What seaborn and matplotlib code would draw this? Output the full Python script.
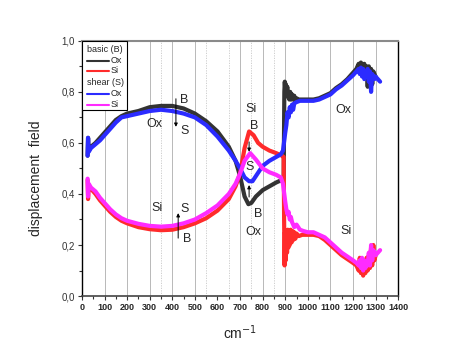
import numpy as np
import pandas as pd
import matplotlib
matplotlib.use("Agg")
import matplotlib.pyplot as plt
from matplotlib.lines import Line2D
from matplotlib.patches import Rectangle
from matplotlib.ticker import MultipleLocator, FuncFormatter
import seaborn as sns

# basic (B), Ox
ox_b_x = [25, 27, 30, 40, 60, 80, 100, 125, 150, 175, 200, 250, 300, 350, 400, 450, 500, 550,
          600, 650, 680, 700, 720, 737, 750, 770, 800, 830, 860, 885, 893, 896, 898, 900, 903,
          906, 909, 912, 915, 918, 922, 926, 930, 935, 940, 945, 950, 960, 975, 1000, 1025,
          1050, 1075, 1100, 1125, 1150, 1175, 1200, 1215, 1225, 1230, 1235, 1240, 1245, 1250,
          1255, 1260, 1265, 1270, 1275, 1280, 1285, 1290, 1295, 1300]
ox_b_y = [0.55, 0.62, 0.57, 0.585, 0.60, 0.62, 0.64, 0.665, 0.69, 0.705, 0.715, 0.725, 0.74,
          0.745, 0.745, 0.735, 0.715, 0.685, 0.645, 0.585, 0.53, 0.47, 0.39, 0.36, 0.365,
          0.39, 0.415, 0.43, 0.445, 0.455, 0.46, 0.80, 0.84, 0.81, 0.83, 0.79, 0.82, 0.78,
          0.80, 0.77, 0.80, 0.77, 0.79, 0.77, 0.785, 0.765, 0.775, 0.77, 0.77, 0.77, 0.77,
          0.775, 0.785, 0.795, 0.815, 0.83, 0.85, 0.875, 0.89, 0.91, 0.895, 0.915, 0.90,
          0.87, 0.91, 0.88, 0.90, 0.82, 0.90, 0.86, 0.89, 0.83, 0.88, 0.87, 0.86]

# basic (B), Si
si_b_x = [25, 27, 30, 40, 60, 80, 100, 125, 150, 175, 200, 250, 300, 350, 400, 450, 500, 550,
          600, 650, 680, 700, 720, 740, 760, 780, 800, 830, 860, 885, 893, 895, 897, 899, 902,
          905, 908, 911, 914, 917, 920, 924, 928, 932, 936, 940, 945, 950, 960, 975, 1000,
          1025, 1050, 1075, 1100, 1125, 1150, 1175, 1200, 1215, 1225, 1230, 1235, 1240, 1245,
          1250, 1255, 1260, 1265, 1270, 1275, 1280, 1285, 1290, 1295, 1300]
si_b_y = [0.455, 0.38, 0.43, 0.42, 0.40, 0.375, 0.355, 0.33, 0.31, 0.295, 0.285, 0.27, 0.262,
          0.258, 0.26, 0.27, 0.285, 0.305, 0.335, 0.38, 0.43, 0.48, 0.58, 0.645, 0.63, 0.60,
          0.585, 0.57, 0.56, 0.55, 0.545, 0.30, 0.12, 0.25, 0.14, 0.23, 0.17, 0.26, 0.19,
          0.25, 0.20, 0.26, 0.21, 0.255, 0.22, 0.25, 0.225, 0.245, 0.235, 0.24, 0.24, 0.24,
          0.235, 0.22, 0.20, 0.18, 0.16, 0.145, 0.13, 0.12, 0.10, 0.15, 0.09, 0.14, 0.08,
          0.13, 0.09, 0.15, 0.10, 0.16, 0.11, 0.19, 0.12, 0.20, 0.14, 0.16]

# shear (S), Ox
ox_s_x = [25, 27, 30, 40, 60, 80, 100, 125, 150, 175, 200, 250, 300, 350, 400, 450, 500, 550,
          600, 650, 680, 700, 720, 740, 755, 770, 800, 830, 860, 880, 890, 900, 905, 910, 915,
          920, 925, 930, 935, 940, 950, 965, 980, 1000, 1025, 1050, 1075, 1100, 1125, 1150,
          1175, 1200, 1215, 1225, 1230, 1235, 1240, 1245, 1250, 1255, 1260, 1265, 1270, 1275,
          1280, 1285, 1290, 1295, 1300, 1310, 1320]
ox_s_y = [0.55, 0.62, 0.565, 0.58, 0.595, 0.61, 0.63, 0.655, 0.68, 0.70, 0.705, 0.715, 0.725,
          0.73, 0.725, 0.715, 0.70, 0.67, 0.625, 0.57, 0.53, 0.50, 0.465, 0.45, 0.45, 0.47,
          0.51, 0.53, 0.545, 0.555, 0.57, 0.64, 0.67, 0.72, 0.70, 0.74, 0.72, 0.75, 0.73,
          0.755, 0.76, 0.765, 0.765, 0.765, 0.765, 0.77, 0.78, 0.79, 0.81, 0.825, 0.845,
          0.865, 0.88, 0.89, 0.87, 0.895, 0.86, 0.89, 0.85, 0.88, 0.87, 0.89, 0.84, 0.88,
          0.80, 0.87, 0.86, 0.85, 0.86, 0.85, 0.84]

# shear (S), Si
si_s_x = [25, 27, 30, 40, 60, 80, 100, 125, 150, 175, 200, 250, 300, 350, 400, 450, 500, 550,
          600, 650, 680, 700, 720, 745, 770, 800, 830, 860, 880, 890, 900, 905, 910, 915, 920,
          925, 930, 940, 950, 965, 980, 1000, 1025, 1050, 1075, 1100, 1125, 1150, 1175, 1200,
          1215, 1225, 1230, 1235, 1240, 1245, 1250, 1255, 1260, 1265, 1270, 1275, 1280, 1285,
          1290, 1300, 1310, 1320]
si_s_y = [0.46, 0.39, 0.44, 0.425, 0.41, 0.385, 0.365, 0.34, 0.32, 0.305, 0.295, 0.283, 0.275,
          0.272, 0.275, 0.285, 0.30, 0.325, 0.355, 0.40, 0.44, 0.48, 0.53, 0.56, 0.535, 0.50,
          0.485, 0.475, 0.465, 0.44, 0.37, 0.34, 0.32, 0.33, 0.30, 0.31, 0.29, 0.27, 0.28,
          0.26, 0.255, 0.25, 0.25, 0.24, 0.23, 0.21, 0.19, 0.17, 0.155, 0.14, 0.13, 0.12,
          0.14, 0.11, 0.15, 0.10, 0.14, 0.11, 0.13, 0.12, 0.17, 0.12, 0.20, 0.14, 0.18, 0.16,
          0.17, 0.18]

series_names = ["B Ox", "B Si", "S Ox", "S Si"]
colors = ["#333333", "#ff2b2b", "#2b2bff", "#ff2bff"]

grid_solid = [100, 200, 300, 400, 500, 700, 800, 900, 1000, 1100, 1200, 1300]
grid_dotted = [350, 550, 650, 750, 850]

df = pd.concat([
    pd.DataFrame({"x": ox_b_x, "y": ox_b_y, "series": "B Ox"}),
    pd.DataFrame({"x": si_b_x, "y": si_b_y, "series": "B Si"}),
    pd.DataFrame({"x": ox_s_x, "y": ox_s_y, "series": "S Ox"}),
    pd.DataFrame({"x": si_s_x, "y": si_s_y, "series": "S Si"}),
], ignore_index=True)

sns.set_style("white")
plt.rcParams["font.family"] = ["Liberation Sans", "DejaVu Sans"]

fig = plt.figure(figsize=(4.63, 3.55), dpi=100)
ax = fig.add_axes([0.177, 0.166, 0.683, 0.719])

for g in grid_solid:
    ax.axvline(g, color="#b8b8b8", lw=0.7, zorder=0)
for g in grid_dotted:
    ax.axvline(g, color="#c8c8c8", lw=0.6, ls=(0, (1.5, 1.5)), zorder=0)

sns.lineplot(data=df, x="x", y="y", hue="series", hue_order=series_names,
             palette=colors, sort=False, estimator=None, linewidth=3,
             legend=False, ax=ax)

ax.set_xlim(0, 1400)
ax.set_ylim(0, 1.0)
ax.xaxis.set_major_locator(MultipleLocator(100))
ax.xaxis.set_minor_locator(MultipleLocator(50))
ax.yaxis.set_major_locator(MultipleLocator(0.2))
ax.yaxis.set_minor_locator(MultipleLocator(0.1))
ax.yaxis.set_major_formatter(FuncFormatter(lambda v, p: f"{v:.1f}".replace(".", ",")))
ax.tick_params(axis="x", which="major", direction="out", length=3, width=0.8,
               labelsize=6.5, pad=2, color="#333333")
ax.tick_params(axis="x", which="minor", direction="out", length=2, width=0.8, color="#333333")
ax.tick_params(axis="y", which="major", direction="out", length=3, width=0.8,
               labelsize=7, pad=2, color="#333333", labelcolor="#333333")
ax.tick_params(axis="y", which="minor", direction="out", length=2, width=0.8, color="#333333")
for lab in ax.get_xticklabels():
    lab.set_fontweight("bold")
ax.tick_params(bottom=True, left=True, which="both")

ax.spines["left"].set_color("black")
ax.spines["left"].set_linewidth(1.0)
ax.spines["right"].set_color("black")
ax.spines["right"].set_linewidth(1.0)
ax.spines["bottom"].set_color("#444444")
ax.spines["bottom"].set_linewidth(1.2)
ax.spines["top"].set_color("#8a8a8a")
ax.spines["top"].set_linewidth(1.5)

ax.set_xlabel("cm$^{-1}$", fontsize=10, labelpad=8)
ax.set_ylabel("displacement  field", fontsize=10)
ax.yaxis.set_label_coords(-0.124, 0.463)

# annotations
fs = 9
ax.text(452, 0.77, "B", fontsize=fs, ha="center", va="center")
ax.text(320, 0.675, "Ox", fontsize=fs, ha="center", va="center")
ax.text(456, 0.647, "S", fontsize=fs, ha="center", va="center")
ax.text(331, 0.345, "Si", fontsize=fs, ha="center", va="center")
ax.text(456, 0.34, "S", fontsize=fs, ha="center", va="center")
ax.text(466, 0.225, "B", fontsize=fs, ha="center", va="center")
ax.text(749, 0.733, "Si", fontsize=fs, ha="center", va="center")
ax.text(762, 0.667, "B", fontsize=fs, ha="center", va="center")
ax.text(740, 0.506, "S", fontsize=fs, ha="center", va="center")
ax.text(781, 0.32, "B", fontsize=fs, ha="center", va="center")
ax.text(759, 0.252, "Ox", fontsize=fs, ha="center", va="center")
ax.text(1156, 0.73, "Ox", fontsize=fs, ha="center", va="center")
ax.text(1170, 0.255, "Si", fontsize=fs, ha="center", va="center")

arrow = dict(arrowstyle="-|>", color="black", lw=0.7, mutation_scale=5, shrinkA=0, shrinkB=0)
ax.annotate("", xy=(416, 0.663), xytext=(416, 0.773), arrowprops=arrow)
ax.annotate("", xy=(426, 0.325), xytext=(426, 0.227), arrowprops=arrow)
ax.annotate("", xy=(740, 0.565), xytext=(740, 0.604), arrowprops=arrow)
ax.annotate("", xy=(740, 0.435), xytext=(740, 0.388), arrowprops=arrow)

# legend box
ax.add_patch(Rectangle((0, 0.729), 0.142, 0.271, transform=ax.transAxes,
                       facecolor="white", edgecolor="black", lw=0.8, zorder=5))
leg_rows = [("basic (B)", None, 0.965), ("Ox", colors[0], 0.922), ("Si", colors[1], 0.882),
            ("shear (S)", None, 0.835), ("Ox", colors[2], 0.792), ("Si", colors[3], 0.749)]
for label, col, yy in leg_rows:
    if col is None:
        ax.text(0.017, yy, label, transform=ax.transAxes, fontsize=6.5,
                va="center", ha="left", zorder=6)
    else:
        ax.add_line(Line2D([0.017, 0.086], [yy, yy], transform=ax.transAxes,
                           color=col, lw=1.5, zorder=6))
        ax.text(0.092, yy, label, transform=ax.transAxes, fontsize=6.5,
                va="center", ha="left", zorder=6)

fig.savefig("out.png", dpi=100)
